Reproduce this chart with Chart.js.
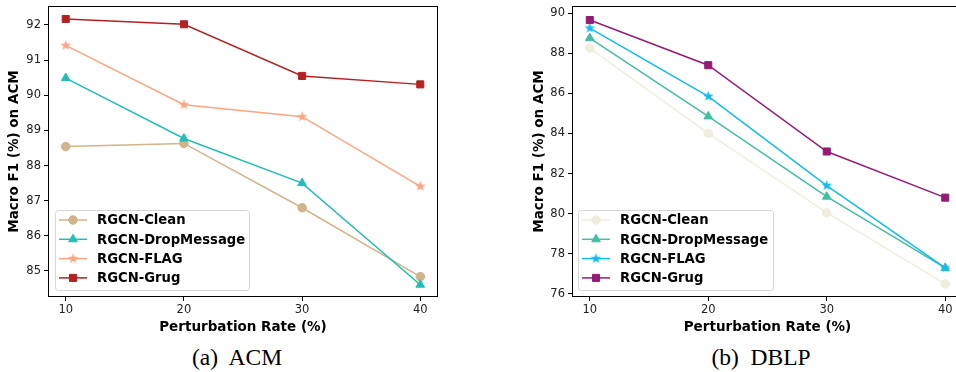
<!DOCTYPE html>
<html>
<head>
<meta charset="utf-8">
<script src="https://cdn.jsdelivr.net/npm/chart.js@4"></script>
<style>
  body { margin: 0; background: #fff; width: 956px; height: 372px; position: relative; overflow: hidden; }
  .box { position: absolute; top: 0; height: 340px; }
  .cap { position: absolute; top: 344px; font-family: "Liberation Serif", serif; font-size: 23.5px; color: #000; text-align: center; width: 300px; }
</style>
</head>
<body>
<div class="box" id="boxA" style="left:0;width:478px"><canvas id="acm"></canvas></div>
<div class="box" id="boxB" style="left:520px;width:449px"><canvas id="dblp"></canvas></div>
<div class="cap" style="left:87px">(a)&nbsp; ACM</div>
<div class="cap" style="left:611px">(b)&nbsp; DBLP</div>
<script>
const rates = [10, 20, 30, 40];
const names = ['RGCN-Clean', 'RGCN-DropMessage', 'RGCN-FLAG', 'RGCN-Grug'];

const acmClean = [88.54, 88.63, 86.80, 84.84];
const acmDrop  = [90.49, 88.77, 87.50, 84.61];
const acmFlag  = [91.42, 89.73, 89.39, 87.41];
const acmGrug  = [92.17, 92.02, 90.55, 90.31];

const dblpClean = [88.25, 84.00, 80.05, 76.50];
const dblpDrop  = [88.75, 84.85, 80.85, 77.30];
const dblpFlag  = [89.25, 85.85, 81.40, 77.30];
const dblpGrug  = [89.65, 87.40, 83.10, 80.80];

const acmTicks  = [85, 86, 87, 88, 89, 90, 91, 92];
const dblpTicks = [76, 78, 80, 82, 84, 86, 88, 90];

const acmColors  = ['#D1B38C', '#22BDB5', '#FFA483', '#B22222'];
const dblpColors = ['#EFEEDD', '#42BEA4', '#10BDF0', '#951C75'];
const markers = ['circle', 'triangle', 'star', 'rect'];

function starImg(color, r) {
  const c = document.createElement('canvas');
  const s = Math.ceil(r * 2 + 2);
  c.width = c.height = s;
  const g = c.getContext('2d');
  g.beginPath();
  for (let i = 0; i < 10; i++) {
    const rr = i % 2 ? r * 0.42 : r;
    const a = -Math.PI / 2 + i * Math.PI / 5;
    g.lineTo(s / 2 + rr * Math.cos(a), s / 2 + rr * Math.sin(a));
  }
  g.closePath();
  g.fillStyle = color;
  g.fill();
  return c;
}

function pointStyleFor(m, color) {
  return m === 'star' ? starImg(color, 5.5) : m;
}
function radiusFor(m) {
  return m === 'circle' ? 4.3 : 5;
}

const frame = {
  id: 'frame',
  afterDraw(chart) {
    const a = chart.chartArea, ctx = chart.ctx;
    ctx.save();
    ctx.strokeStyle = '#000';
    ctx.lineWidth = 1;
    ctx.strokeRect(Math.round(a.left) + 0.5, Math.round(a.top) + 0.5, Math.round(a.right - a.left) - 1, Math.round(a.bottom - a.top) - 1);
    ctx.restore();
  }
};

const mplLegend = {
  id: 'mplLegend',
  afterDraw(chart, args, opts) {
    const ctx = chart.ctx, a = chart.chartArea;
    const x0 = a.left + opts.dx, y0 = a.top + opts.dy;
    ctx.save();
    ctx.beginPath();
    ctx.roundRect(x0 + 0.5, y0 + 0.5, opts.w, opts.h, 3);
    ctx.fillStyle = 'rgba(255,255,255,0.85)';
    ctx.fill();
    ctx.strokeStyle = '#d6d6d6';
    ctx.lineWidth = 1;
    ctx.stroke();
    ctx.font = 'bold 13.2px "DejaVu Sans"';
    ctx.textBaseline = 'middle';
    chart.data.datasets.forEach((ds, i) => {
      const y = y0 + 10 + i * 19.3;
      ctx.strokeStyle = ds.borderColor;
      ctx.lineWidth = 1.5;
      ctx.beginPath();
      ctx.moveTo(x0 + 4, y);
      ctx.lineTo(x0 + 32, y);
      ctx.stroke();
      ctx.fillStyle = ds.pointBackgroundColor;
      ctx.strokeStyle = ds.pointBorderColor;
      ctx.lineWidth = 1;
      Chart.helpers.drawPoint(ctx, { pointStyle: ds.pointStyle, radius: ds.pointRadius, rotation: 0, borderWidth: 1 }, x0 + 18, y);
      ctx.fillStyle = '#000';
      ctx.fillText(ds.label, x0 + 42, y + 1);
    });
    ctx.restore();
  }
};

function makeChart(id, series, colors, yMin, yMax, yTicks, yWidth, padLeft, legendOpts) {
  const datasets = series.map((vals, i) => ({
    label: names[i],
    data: rates.map((r, k) => ({ x: r, y: vals[k] })),
    borderColor: colors[i],
    backgroundColor: colors[i],
    pointBackgroundColor: colors[i],
    pointBorderColor: colors[i],
    pointStyle: pointStyleFor(markers[i], colors[i]),
    pointRadius: radiusFor(markers[i]),
    borderWidth: 1.5,
    pointBorderWidth: 1,
    order: 3 - i
  }));
  return new Chart(document.getElementById(id), {
    type: 'line',
    data: { datasets },
    options: {
      responsive: true,
      maintainAspectRatio: false,
      animation: false,
      layout: { padding: { top: 6, right: legendOpts.padRight, left: padLeft, bottom: 0 } },
      plugins: { legend: { display: false }, tooltip: { enabled: false }, mplLegend: legendOpts },
      scales: {
        x: {
          type: 'linear', min: 8.5, max: 41.5,
          afterBuildTicks: s => { s.ticks = rates.map(v => ({ value: v })); },
          afterFit: s => { s.height = 43; },
          grid: { drawOnChartArea: false, tickLength: 4, tickColor: '#000' },
          border: { display: false },
          ticks: { color: '#222', font: { family: 'DejaVu Sans', size: 11.5 }, padding: 2, maxRotation: 0 },
          title: { display: true, text: 'Perturbation Rate (%)', color: '#000', font: { family: 'DejaVu Sans', size: 13.5, weight: 'bold' }, padding: { top: 0, bottom: 4 } }
        },
        y: {
          min: yMin, max: yMax,
          afterBuildTicks: s => { s.ticks = yTicks.map(v => ({ value: v })); },
          afterFit: s => { s.width = yWidth; s.paddingTop = 0; s.paddingBottom = 0; },
          grid: { drawOnChartArea: false, tickLength: 4, tickColor: '#000' },
          border: { display: false },
          ticks: { color: '#222', font: { family: 'DejaVu Sans', size: 11.5 }, padding: 3 },
          title: { display: true, text: 'Macro F1 (%) on ACM', color: '#000', font: { family: 'DejaVu Sans', size: 13.5, weight: 'bold' }, padding: { top: 0, bottom: 2 } }
        }
      }
    },
    plugins: [frame, mplLegend]
  });
}

makeChart('acm', [acmClean, acmDrop, acmFlag, acmGrug], acmColors, 84.26, 92.54, acmTicks, 42, 6,
  { dx: 7, dy: 204, w: 194, h: 80, padRight: 40 });
makeChart('dblp', [dblpClean, dblpDrop, dblpFlag, dblpGrug], dblpColors, 75.85, 90.35, dblpTicks, 41, 11,
  { dx: 6, dy: 204, w: 195, h: 80, padRight: 1 });
</script>
</body>
</html>
